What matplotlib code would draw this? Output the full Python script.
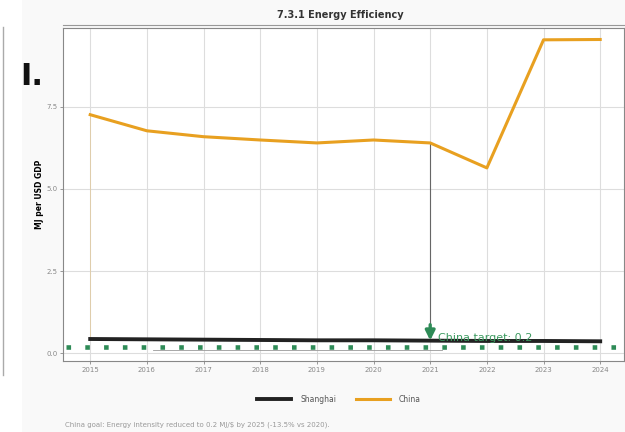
import numpy as np
import matplotlib.pyplot as plt
from matplotlib.patches import Rectangle

years = [2015, 2016, 2017, 2018, 2019, 2020, 2021, 2022, 2023, 2024]
china = [7.26, 6.77, 6.59, 6.49, 6.40, 6.49, 6.40, 5.64, 9.54, 9.55]
shanghai = [0.43, 0.42, 0.41, 0.40, 0.39, 0.39, 0.38, 0.37, 0.37, 0.36]
target_value = 0.2
target_year = 2021
y_ticks = [0.0, 2.5, 5.0, 7.5]

fig = plt.figure(figsize=(6.25, 4.32), dpi=100, facecolor='#f9f9f9')
fig.patches.append(Rectangle((0, 0), 22 / 625, 1, transform=fig.transFigure,
                             facecolor='white', edgecolor='none', zorder=-1))
# left-hand stray panel border
fig.add_artist(plt.Line2D([3 / 625, 3 / 625], [57 / 432, 405 / 432],
                          transform=fig.transFigure, color='#aaaaaa', lw=1))
fig.text(20 / 625, 347 / 432, 'I.', fontsize=22, fontweight='bold',
         family='Liberation Sans Narrow', color='#111111', va='baseline')

ax = fig.add_axes([63 / 625, 71 / 432, 561 / 625, 333 / 432])
ax.set_facecolor('white')

ax.plot(years, china, color='#E8A020', lw=2.2, label='China', zorder=4)
ax.plot(years, shanghai, color='#222222', lw=2.8, label='Shanghai', zorder=5)

# China target as a row of square dots
ax.plot([2014.58, 2024.45], [target_value, target_value], color='#2E8B57',
        lw=3.3, linestyle=(0, (1, 3.1)), dash_capstyle='butt', zorder=3)

# hover spike lines
i21 = years.index(target_year)
ax.plot([target_year, target_year], [china[i21], 0.9], color='#666666', lw=0.8, zorder=2)
ax.plot([years[0], years[0]], [china[0], 0.5], color='#E8A020', lw=0.6, alpha=0.3, zorder=2)
ax.plot([2016.1, 2021.2], [0.08, 0.08], color='#999999', lw=0.6, zorder=2)

ax.annotate('', xy=(target_year, 0.3), xytext=(target_year, 0.95),
            arrowprops=dict(arrowstyle='-|>', color='#2E8B57', lw=2.4,
                            mutation_scale=14), zorder=6)
ax.text(target_year + 0.14, 0.30, f'China target: {target_value}', color='#3C9A60',
        fontsize=8, va='bottom', ha='left', zorder=6)

ax.set_xlim(2014.52, 2024.42)
ax.set_ylim(-0.24, 9.9)
ax.set_xticks(years)
ax.set_yticks(y_ticks)
ax.set_xticklabels([str(y) for y in years])
ax.set_yticklabels([f'{v:.1f}' for v in y_ticks])
ax.tick_params(labelsize=5, colors='#888888', length=2, width=0.6, pad=2)
ax.grid(True, color='#dddddd', lw=0.8)
ax.set_axisbelow(True)
for s in ax.spines.values():
    s.set_color('#888888')
    s.set_linewidth(0.8)

ax.set_ylabel('MJ per USD GDP', fontsize=5.5, fontweight='bold')
ax.yaxis.set_label_coords(-0.033, 0.5)

# double top border line
fig.add_artist(plt.Line2D([63 / 625, 1.0], [407 / 432, 407 / 432],
                          transform=fig.transFigure, color='#999999', lw=0.8))
fig.text(340 / 625, 417 / 432, '7.3.1 Energy Efficiency', fontsize=7,
         fontweight='bold', ha='center', va='center', color='#333333')

leg = ax.legend(handles=[ax.lines[1], ax.lines[0]], loc='center',
                bbox_to_anchor=(339 / 625, 33 / 432), bbox_transform=fig.transFigure,
                ncol=2, frameon=False, fontsize=5.5, handlelength=4.5,
                columnspacing=2.5, handletextpad=1.2)
for t in leg.get_texts():
    t.set_color('#555555')

fig.text(65 / 625, 7 / 432,
         'China goal: Energy intensity reduced to 0.2 MJ/$ by 2025 (-13.5% vs 2020).',
         fontsize=5, color='#999999', va='center')

fig.savefig('out.png', dpi=100, facecolor=fig.get_facecolor())
